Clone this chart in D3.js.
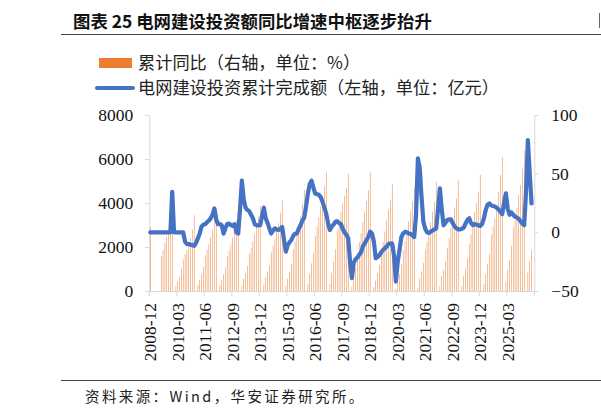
<!DOCTYPE html>
<html>
<head>
<meta charset="utf-8">
<script src="https://cdn.jsdelivr.net/npm/d3@7"></script>
<style>
  body { margin: 0; background: #fff; }
  svg { display: block; }
</style>
</head>
<body>
<div id="chart"></div>
<script>
// monthly categories 2008-12 .. 2026-05
const firstMonth = new Date(2008, 11, 1);
const endMonth = new Date(2026, 5, 1);

// x-axis labels (every 15 months)
const tickLabels = ["2008-12", "2010-03", "2011-06", "2012-09", "2013-12", "2015-03", "2016-06",
    "2017-09", "2018-12", "2020-03", "2021-06", "2022-09", "2023-12", "2025-03"];

// cumulative grid investment, 亿元 (one row per year, Jan..Dec; Jan not published)
const investment = [
    2895,                                                                  // 2008-12
    null, null, null, null, null, 1590, 1860, 2200, 2470, 2580, 2700, 3898, // 2009
    null, 227, 425, 650, 1030, 1440, 1680, 1864, 2136, 2400, 2800, 3448,    // 2010
    null, 260, 520, 790, 1090, 1610, 1860, 2120, 2450, 2800, 3270, 3687,    // 2011
    null, 250, 500, 760, 1080, 1580, 1830, 2110, 2430, 2770, 3200, 3693,    // 2012
    null, 230, 560, 830, 1150, 1690, 1960, 2250, 2600, 2950, 3400, 3856,    // 2013
    null, 280, 620, 880, 1180, 1750, 2050, 2350, 2720, 3080, 3560, 4118,    // 2014
    null, 230, 560, 880, 1250, 1900, 2240, 2600, 3020, 3420, 3960, 4603,    // 2015
    null, 310, 790, 1260, 1740, 2500, 2920, 3350, 3850, 4320, 4780, 5426,   // 2016
    null, 320, 830, 1340, 1900, 2740, 3160, 3590, 3990, 4330, 4690, 5315,   // 2017
    null, 195, 600, 1040, 1500, 2230, 2620, 3130, 3610, 4090, 4580, 5373,   // 2018
    null, 180, 470, 820, 1180, 1850, 2230, 2710, 3200, 3680, 4150, 4856,    // 2019
    null, 100, 350, 760, 1220, 1840, 2270, 2700, 3160, 3630, 4080, 4699,    // 2020
    null, 160, 570, 900, 1290, 1880, 2240, 2660, 3130, 3600, 4050, 4951,    // 2021
    null, 220, 680, 950, 1350, 1960, 2400, 2860, 3340, 3800, 4210, 5012,    // 2022
    null, 230, 700, 1020, 1490, 2150, 2580, 3030, 3580, 4020, 4500, 5275,   // 2023
    null, 320, 770, 1230, 1680, 2540, 2920, 3300, 3860, 4510, 5270, 6083,   // 2024
    null, 430, 955, 1410, 2045, 2895, 3230, 3760, 4360, 4820, 5580, 6395,   // 2025
    null, 830, 1380, 1860                                                   // 2026
];

// cumulative YoY, %
const yoy = [
    0,                                                               // 2008-12
    0, 0, 0, 0, 0, 0, 0, 0, 0, 0, 0, 34.6,                           // 2009
    0, 0, 0, 0, 0, 0, -8, -10, -10, -10.5, -11, -11.5,               // 2010
    -9, -5, -1, 5, 6.5, 7, 8.5, 10, 12, 15, 20.4, 11,                // 2011
    7, 7, 6, -1, 3.5, 7, 7.5, 6.2, 5.5, 7, 0, -1,                    // 2012
    20, 44, 28, 21, 19, 18, 15, 12, 7, 6, 6, 6.2,                    // 2013
    14, 21, 12, 8, 3.4, -1, 1.5, 3.4, 2.5, 2, 3, 4.5,                // 2014
    -6.6, -16.5, -10.8, -8.5, -6.5, -3, -1.2, -1, 3, 6, 10, 12.5,    // 2015
    22, 33, 41, 44, 38, 33, 32.5, 32, 30, 26, 21, 16,                // 2016
    8, 2, 5, 6.5, 9, 9.5, 8, 7, 3, 0, -2, -5,                        // 2017
    -25, -39, -26, -23, -21.5, -19, -17, -12, -9.5, -6.5, -3.8, 0.5, // 2018
    -1, -8, -22, -21, -19.5, -17, -15, -13.5, -12, -10, -9.4, -9.5,  // 2019
    -20, -42, -25, -15, -4, -1, 0.5, 0, -1, -1.5, -2.5, -4,          // 2020
    15, 63, 55, 30, 9, 3, 0, -0.5, 0.5, 1.5, 2.5, 3.4,               // 2021
    20, 37.5, 20, 6, 8, 10.5, 11, 11, 8, 5, 3.5, 2.5,                // 2022
    2.5, 3, 4, 7.5, 10.5, 12, 8, 6.2, 7, 6.5, 6, 5.4,                // 2023
    7, 12, 19, 23.5, 24.7, 23, 22.4, 22, 21, 19.5, 17.5, 15.5,       // 2024
    25, 33.2, 20, 15, 17, 15, 13.3, 12.5, 11.5, 9.5, 7.5, 6.2,       // 2025
    35, 78.7, 50, 24.7                                               // 2026
];

const leftTicks = [0, 2000, 4000, 6000, 8000];
const rightTicks = [-50, 0, 50, 100];

const width = 601, height = 416;
const plot = { left: 149.3, right: 534.3, top: 115, bottom: 291 };
const numFont = "'Liberation Serif', 'Times New Roman', serif";
const cjkFont = "'Noto Sans CJK SC', 'Noto Sans', sans-serif";
const axisColor = "#d9d9d9";

const fmt = d3.timeFormat("%Y-%m");
const categories = d3.timeMonth.range(firstMonth, endMonth).map(fmt);

const svg = d3.select("#chart").append("svg")
    .attr("width", width)
    .attr("height", height);

// scales
const x = d3.scaleBand().domain(categories).range([plot.left, plot.right]);
const yL = d3.scaleLinear().domain([0, 8000]).range([plot.bottom, plot.top]);
const yR = d3.scaleLinear().domain([-50, 100]).range([plot.bottom, plot.top]);

// title
svg.append("text")
    .attr("x", 73).attr("y", 27.5)
    .attr("font-family", cjkFont)
    .attr("font-size", 17.4)
    .attr("font-weight", "bold")
    .attr("fill", "#111")
    .text("图表 25 电网建设投资额同比增速中枢逐步抬升");

svg.append("line")
    .attr("x1", 61).attr("x2", width)
    .attr("y1", 34.5).attr("y2", 34.5)
    .attr("stroke", "#444").attr("stroke-width", 1);

// cut-off mark at the right page edge
svg.append("line")
    .attr("x1", 599.5).attr("x2", 599.5)
    .attr("y1", 13).attr("y2", 28)
    .attr("stroke", "#666").attr("stroke-width", 1);

// legend
const legend = svg.append("g").attr("font-family", cjkFont).attr("font-size", 17.2).attr("fill", "#222");
legend.append("rect")
    .attr("x", 99).attr("y", 58).attr("width", 33).attr("height", 10)
    .attr("fill", "#ED7D31");
legend.append("text")
    .attr("x", 138).attr("y", 63).attr("dy", "0.35em")
    .text("累计同比（右轴，单位：%）");
legend.append("line")
    .attr("x1", 97).attr("x2", 133).attr("y1", 88).attr("y2", 88)
    .attr("stroke", "#4472C4").attr("stroke-width", 4).attr("stroke-linecap", "round");
legend.append("text")
    .attr("x", 138).attr("y", 88).attr("dy", "0.35em")
    .text("电网建设投资累计完成额（左轴，单位：亿元）");

// axes
function styleAxis(g) {
    g.select(".domain").attr("stroke", axisColor);
    g.selectAll(".tick line").attr("stroke", axisColor);
    g.selectAll(".tick text")
        .attr("font-family", numFont)
        .attr("font-size", 17.5)
        .attr("fill", "#111");
}

svg.append("g")
    .attr("transform", `translate(${plot.left},0)`)
    .call(d3.axisLeft(yL).tickValues(leftTicks).tickSize(4).tickSizeOuter(0).tickPadding(12).tickFormat(d3.format("d")))
    .call(styleAxis);

svg.append("g")
    .attr("transform", `translate(${plot.right},0)`)
    .call(d3.axisRight(yR).tickValues(rightTicks).tickSize(4).tickSizeOuter(0).tickPadding(13).tickFormat(d3.format("d")))
    .call(styleAxis);

const xAxis = svg.append("g")
    .attr("transform", `translate(0,${plot.bottom})`)
    .call(d3.axisBottom(x).tickValues(tickLabels).tickSize(0).tickSizeOuter(0))
    .call(styleAxis);
xAxis.selectAll(".tick text")
    .attr("y", 0)
    .attr("x", -12)
    .attr("dy", "0.35em")
    .attr("transform", "rotate(-90)")
    .style("text-anchor", "end");

// x tick marks at category boundaries
const tickCats = categories.filter((d, i) => i % 15 === 0);
svg.append("g").selectAll("line")
    .data(tickCats)
    .join("line")
    .attr("x1", d => x(d)).attr("x2", d => x(d))
    .attr("y1", plot.bottom).attr("y2", plot.bottom + 5)
    .attr("stroke", axisColor);
svg.append("line")
    .attr("x1", plot.right).attr("x2", plot.right)
    .attr("y1", plot.bottom).attr("y2", plot.bottom + 5)
    .attr("stroke", axisColor);

// bars (left axis) - very thin, so they come out mostly light like the original
const barData = investment.map((v, i) => ({ cat: categories[i], v })).filter(d => d.v != null);
const bw = 0.5;
svg.append("g")
    .selectAll("rect")
    .data(barData)
    .join("rect")
    .attr("x", d => x(d.cat) + x.bandwidth() / 2 - bw / 2)
    .attr("width", bw)
    .attr("y", d => yL(d.v))
    .attr("height", d => yL(0) - yL(d.v))
    .attr("fill", "#ED7D31");

// line (right axis)
const lineData = yoy.map((v, i) => ({ cat: categories[i], v }));
svg.append("path")
    .datum(lineData)
    .attr("fill", "none")
    .attr("stroke", "#4472C4")
    .attr("stroke-width", 4.2)
    .attr("stroke-linejoin", "round")
    .attr("stroke-linecap", "round")
    .attr("d", d3.line()
        .x(d => x(d.cat) + x.bandwidth() / 2)
        .y(d => yR(d.v)));

// source
svg.append("line")
    .attr("x1", 61).attr("x2", width)
    .attr("y1", 380.5).attr("y2", 380.5)
    .attr("stroke", "#444").attr("stroke-width", 1);

svg.append("text")
    .attr("x", 85).attr("y", 397).attr("dy", "0.35em")
    .attr("font-family", cjkFont)
    .attr("font-size", 14.5)
    .attr("letter-spacing", 2.4)
    .attr("fill", "#222")
    .text("资料来源：Wind，华安证券研究所。");
</script>
</body>
</html>
